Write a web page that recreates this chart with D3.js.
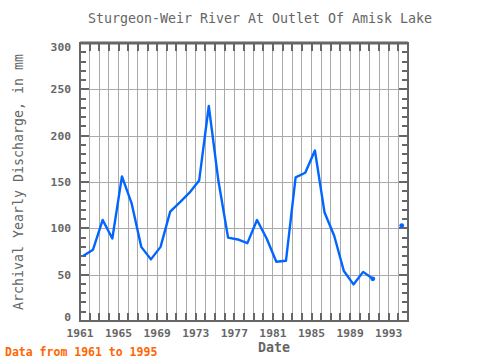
<!DOCTYPE html>
<html>
<head>
<meta charset="utf-8">
<script src="https://cdn.jsdelivr.net/npm/d3@7"></script>
<style>
  html, body { margin: 0; padding: 0; background: #fff; }
  svg { display: block; }
  text { font-family: "DejaVu Sans Mono", "Liberation Mono", monospace; }
</style>
</head>
<body>
<svg id="chart" width="480" height="360"></svg>
<script>
// Data
const years = [1961,1962,1963,1964,1965,1966,1967,1968,1969,1970,1971,1972,1973,1974,1975,1976,1977,1978,1979,1980,1981,1982,1983,1984,1985,1986,1987,1988,1989,1990,1991,1992,1993,1994];
const discharge = [70.5,77,109,89,156,127,80,66.5,80,118,128,138.5,151.5,232,151,90,88,84,109,89,64,65,155,160,184,117,92,54,39.5,53,45.5,null,null,103];
const xTickLabels = [1961,1965,1969,1973,1977,1981,1985,1989,1993];
const yTickLabels = [0,50,100,150,200,250,300];

const title = "Sturgeon-Weir River At Outlet Of Amisk Lake";
const yTitle = "Archival Yearly Discharge, in mm";
const xTitle = "Date";
const footnote = "Data from 1961 to 1995";

const svg = d3.select("#chart");
const L = 80, R = 408, T = 43, B = 321;
const x = d3.scaleLinear().domain([1961, 1995]).range([L, R]);
const y = d3.scaleLinear().domain([0, 300]).range([B, T]);
const offset = 0.35; // position of a yearly value within its year

const axisColor = "#666";
const gridColor = "#aaa";
const textColor = "#666";

// grid
const allYears = d3.range(1962, 1995);
svg.append("g").selectAll("line").data(allYears).join("line")
  .attr("x1", d => x(d)).attr("x2", d => x(d))
  .attr("y1", T).attr("y2", B)
  .attr("stroke", gridColor).attr("stroke-width", 1).attr("shape-rendering", "crispEdges");
svg.append("g").selectAll("line").data(yTickLabels.slice(1, -1)).join("line")
  .attr("x1", L).attr("x2", R)
  .attr("y1", d => Math.round(y(d)) + 0.5).attr("y2", d => Math.round(y(d)) + 0.5)
  .attr("stroke", gridColor).attr("stroke-width", 1);

// minor ticks
const minorY = d3.range(0, 301, 10);
const tg = svg.append("g").attr("stroke", axisColor).attr("stroke-width", 2);
tg.selectAll(".tl").data(minorY).join("line")
  .attr("x1", L).attr("x2", d => L + (d % 50 === 0 ? 9 : 6))
  .attr("y1", d => Math.round(y(d))).attr("y2", d => Math.round(y(d)));
tg.selectAll(".tr").data(minorY).join("line")
  .attr("x1", R).attr("x2", d => R - (d % 50 === 0 ? 9 : 6))
  .attr("y1", d => Math.round(y(d))).attr("y2", d => Math.round(y(d)));
const tickYears = d3.range(1961, 1996);
tg.selectAll(".tt").data(tickYears).join("line")
  .attr("x1", d => Math.round(x(d))).attr("x2", d => Math.round(x(d)))
  .attr("y1", T).attr("y2", T + 8);
tg.selectAll(".tb").data(tickYears).join("line")
  .attr("x1", d => Math.round(x(d))).attr("x2", d => Math.round(x(d)))
  .attr("y1", B).attr("y2", B - 8);

// frame
svg.append("rect").attr("x", L).attr("y", T).attr("width", R - L).attr("height", B - T)
  .attr("fill", "none").attr("stroke", axisColor).attr("stroke-width", 2);
svg.append("line").attr("x1", L).attr("x2", R).attr("y1", T).attr("y2", T)
  .attr("stroke", axisColor).attr("stroke-width", 3);

// tick labels
svg.append("g").selectAll("text").data(yTickLabels).join("text")
  .attr("x", 71)
  .attr("y", d => Math.min(Math.max(y(d), T + 4), B - 4))
  .attr("dy", "0.35em")
  .attr("text-anchor", "end")
  .attr("font-size", 11.3).attr("font-weight", "bold").attr("fill", textColor)
  .text(d => d);
svg.append("g").selectAll("text").data(xTickLabels).join("text")
  .attr("x", d => x(d))
  .attr("y", 333).attr("dy", "0.35em")
  .attr("text-anchor", "middle")
  .attr("font-size", 11.3).attr("font-weight", "bold").attr("fill", textColor)
  .text(d => d);

// titles
svg.append("text").attr("x", 260).attr("y", 18).attr("dy", "0.35em")
  .attr("text-anchor", "middle").attr("font-size", 13.3).attr("fill", textColor).text(title);
svg.append("text").attr("transform", "translate(18,182) rotate(-90)").attr("dy", "0.35em")
  .attr("text-anchor", "middle").attr("font-size", 13.3).attr("fill", textColor).text(yTitle);
svg.append("text").attr("x", 274).attr("y", 347.5).attr("dy", "0.35em")
  .attr("text-anchor", "middle").attr("font-size", 13.3).attr("font-weight", "bold")
  .attr("fill", textColor).text(xTitle);
svg.append("text").attr("x", 5).attr("y", 352).attr("dy", "0.35em")
  .attr("font-size", 11.5).attr("font-weight", "bold").attr("fill", "#ff6600").text(footnote);

// data line
const pts = years.map((yr, i) => ({ yr, v: discharge[i] }));
const line = d3.line()
  .defined(d => d.v !== null)
  .x(d => x(d.yr + offset)).y(d => y(d.v));
svg.append("path").datum(pts).attr("d", line)
  .attr("fill", "none").attr("stroke", "#0066ff").attr("stroke-width", 2.4)
  .attr("stroke-linejoin", "round");
// end-of-segment markers
const ends = pts.filter((d, i) => d.v !== null && (i === pts.length - 1 || pts[i + 1].v === null));
svg.append("g").selectAll("circle").data(ends).join("circle")
  .attr("cx", d => x(d.yr + offset)).attr("cy", d => y(d.v)).attr("r", 2.4)
  .attr("fill", "#0066ff");
</script>
</body>
</html>
